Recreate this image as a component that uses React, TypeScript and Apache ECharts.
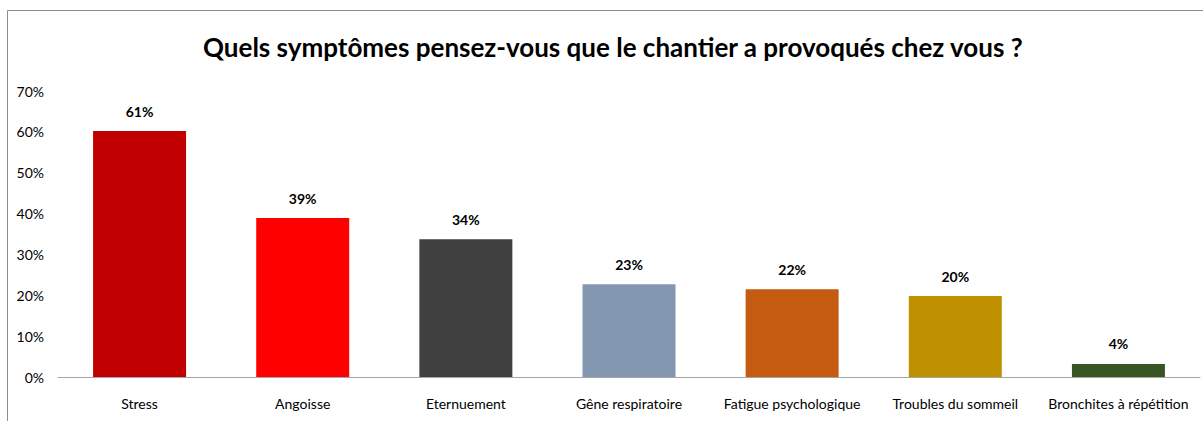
import React, { useEffect, useRef } from "react";
import * as echarts from "echarts";

const title = "Quels symptômes pensez-vous que le chantier a provoqués chez vous ?";
const categories = [
  "Stress",
  "Angoisse",
  "Eternuement",
  "Gêne respiratoire",
  "Fatigue psychologique",
  "Troubles du sommeil",
  "Bronchites à répétition",
];
const values = [60.2, 38.9, 33.7, 22.7, 21.5, 19.8, 3.2];
const valueLabels = ["61%", "39%", "34%", "23%", "22%", "20%", "4%"];
const colors = ["#C00000", "#FF0000", "#404040", "#8497B0", "#C55A11", "#BF9000", "#375623"];
const yTicks = [0, 10, 20, 30, 40, 50, 60, 70];

const FONT = "Lato, 'Open Sans', sans-serif";

export default function App() {
  const ref = useRef<HTMLDivElement>(null);
  useEffect(() => {
    const chart = echarts.init(ref.current!, null, { renderer: "svg" });
    chart.setOption({
      animation: false,
      backgroundColor: "#ffffff",
      title: {
        text: title,
        left: 198,
        top: 29,
        textStyle: { fontFamily: FONT, fontSize: 26, fontWeight: "bold", color: "#000" },
      },
      graphic: [
        {
          type: "rect",
          shape: { x: 7.5, y: 10.5, width: 1300, height: 500 },
          style: { fill: "none", stroke: "#8C8C8C", lineWidth: 1 },
          silent: true,
        },
      ],
      grid: { left: 58, right: 3, top: 91, bottom: 44, containLabel: false },
      xAxis: {
        type: "category",
        data: categories,
        axisLine: { show: true, lineStyle: { color: "#A6A6A6", width: 1 } },
        axisTick: { show: false },
        axisLabel: { fontFamily: FONT, fontSize: 14, color: "#000", margin: 19, interval: 0 },
      },
      yAxis: {
        type: "value",
        min: yTicks[0],
        max: yTicks[yTicks.length - 1],
        interval: 10,
        axisLine: { show: false },
        axisTick: { show: false },
        splitLine: { show: false },
        axisLabel: {
          fontFamily: FONT,
          fontSize: 14,
          color: "#000",
          margin: 14,
          formatter: (v: number) => `${v}%`,
        },
      },
      series: [
        {
          type: "bar",
          barWidth: "57%",
          data: values.map((v, i) => ({ value: v, itemStyle: { color: colors[i] } })),
          label: {
            show: true,
            position: "top",
            distance: 13,
            fontFamily: FONT,
            fontSize: 14,
            fontWeight: "bold",
            color: "#000",
            formatter: (p: any) => valueLabels[p.dataIndex],
          },
        },
      ],
    });
    return () => chart.dispose();
  }, []);
  return (
    <div
      ref={ref}
      style={{ position: "fixed", left: 0, top: 0, width: 1203, height: 421 }}
    />
  );
}
